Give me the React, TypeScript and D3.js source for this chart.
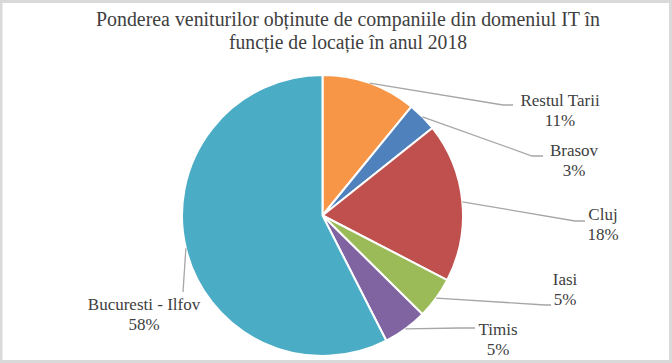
import React, { useEffect, useRef } from "react";
import * as d3 from "d3";

const categories = ["Restul Tarii", "Brasov", "Cluj", "Iasi", "Timis", "Bucuresti - Ilfov"];
const shares = [10.9, 3.4, 18.3, 4.8, 5.1, 57.5];
const colors = ["#F79646", "#4F81BD", "#C0504D", "#9BBB59", "#8064A2", "#4BACC6"];
const titleLines = [
  "Ponderea veniturilor obținute de companiile din domeniul IT în",
  "funcție de locație în anul 2018",
];
const titleWidths = [504, 238];

// label placement (text centre, leader elbow), set by hand like the original
const labelPos: [number, number][] = [
  [560, 106],
  [574, 156],
  [603, 220],
  [565, 285],
  [498, 335],
  [144, 310],
];
const elbows: [number, number, number][] = [
  [503, 105, 513],
  [532, 156, 543],
  [575, 221, 585],
  [545, 305, 551],
  [460, 328, 475],
  [183, 292, 183],
];

const W = 672;
const H = 363;
const cx = 322.5;
const cy = 215.5;
const radius = 140.5;
const font = "'Liberation Serif', 'DejaVu Serif', serif";

const App = () => {
  const ref = useRef<SVGSVGElement>(null);

  useEffect(() => {
    const svg = d3.select(ref.current);
    svg.selectAll("*").remove();

    svg
      .append("rect")
      .attr("x", 1)
      .attr("y", 1.5)
      .attr("width", W - 2.5)
      .attr("height", H - 3)
      .attr("fill", "#fff")
      .attr("stroke", "#d9d9d9")
      .attr("stroke-width", 3);

    svg
      .append("g")
      .selectAll("text")
      .data(titleLines)
      .enter()
      .append("text")
      .attr("x", 348)
      .attr("y", (d, i) => 26 + i * 23)
      .attr("text-anchor", "middle")
      .attr("font-family", font)
      .attr("font-size", 20)
      .attr("textLength", (d, i) => titleWidths[i])
      .attr("lengthAdjust", "spacingAndGlyphs")
      .attr("fill", "#404040")
      .text((d) => d);

    const pie = d3
      .pie<number>()
      .sort(null)
      .value((d) => d);
    const arcs = pie(shares);
    const arc = d3.arc<d3.PieArcDatum<number>>().innerRadius(0).outerRadius(radius);

    const g = svg.append("g").attr("transform", `translate(${cx},${cy})`);
    g.selectAll("path")
      .data(arcs)
      .enter()
      .append("path")
      .attr("d", arc)
      .attr("fill", (d, i) => colors[i])
      .attr("stroke", "#fff")
      .attr("stroke-width", 2);

    // leader lines
    svg
      .append("g")
      .selectAll("polyline")
      .data(arcs)
      .enter()
      .append("polyline")
      .attr("points", (d, i) => {
        const a = (d.startAngle + d.endAngle) / 2;
        const sx = cx + Math.sin(a) * radius;
        const sy = cy - Math.cos(a) * radius;
        const e = elbows[i];
        return `${sx},${sy} ${e[0]},${e[1]} ${e[2]},${e[1]}`;
      })
      .attr("fill", "none")
      .attr("stroke", "#a6a6a6")
      .attr("stroke-width", 1.3);

    const labels = svg
      .append("g")
      .selectAll("text")
      .data(arcs)
      .enter()
      .append("text")
      .attr("text-anchor", "middle")
      .attr("font-family", font)
      .attr("font-size", 17)
      .attr("fill", "#404040");
    labels
      .append("tspan")
      .attr("x", (d, i) => labelPos[i][0])
      .attr("y", (d, i) => labelPos[i][1])
      .text((d, i) => categories[i]);
    labels
      .append("tspan")
      .attr("x", (d, i) => labelPos[i][0])
      .attr("y", (d, i) => labelPos[i][1] + 19.5)
      .text((d) => Math.round(d.data) + "%");
  }, []);

  return (
    <svg
      ref={ref}
      width={W}
      height={H}
      style={{ position: "absolute", left: 0, top: 0 }}
    ></svg>
  );
};

export default App;
